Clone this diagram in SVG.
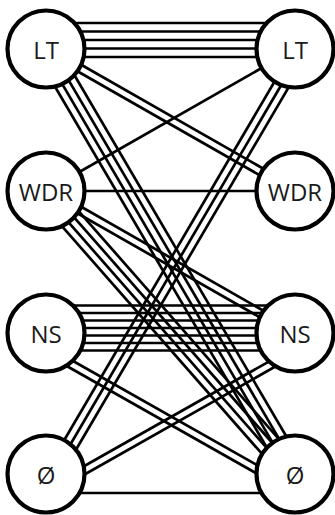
<svg xmlns="http://www.w3.org/2000/svg" width="335" height="515" viewBox="0 0 335 515">
<style>
.e line{stroke:#000;stroke-width:2.7;fill:none}
.n circle{fill:#fff;stroke:#000;stroke-width:4.2}
.n text{font-family:"Open Sans","DejaVu Sans",sans-serif;font-size:24px;fill:#1a1a1a;text-anchor:middle;dominant-baseline:central}
</style>
<rect width="335" height="515" fill="#fff"/>
<g id="connectors" class="e">
  <g transform="translate(46,40)">
    <line x1="0" y1="-17" x2="249" y2="-17"/><line x1="0" y1="-8.5" x2="249" y2="-8.5"/><line x1="0" y1="0" x2="249" y2="0"/><line x1="0" y1="8.5" x2="249" y2="8.5"/><line x1="0" y1="17" x2="249" y2="17"/>
  </g>
  <g transform="translate(46,49) rotate(29.7)">
    <line x1="0" y1="-3.75" x2="287" y2="-3.75"/><line x1="0" y1="3.75" x2="287" y2="3.75"/>
  </g>
  <g transform="translate(46,49) rotate(59.6)">
    <line x1="0" y1="-11.25" x2="493" y2="-11.25"/><line x1="0" y1="-3.75" x2="493" y2="-3.75"/><line x1="0" y1="3.75" x2="493" y2="3.75"/><line x1="0" y1="11.25" x2="493" y2="11.25"/>
  </g>
  <g transform="translate(46,191) rotate(-29.7)"><line x1="0" y1="0" x2="287" y2="0"/></g>
  <line x1="46" y1="191" x2="295" y2="191"/>
  <g transform="translate(46,191) rotate(29.7)">
    <line x1="0" y1="-3.75" x2="287" y2="-3.75"/><line x1="0" y1="3.75" x2="287" y2="3.75"/>
  </g>
  <g transform="translate(46,191) rotate(48.7)">
    <line x1="0" y1="-11.25" x2="378" y2="-11.25"/><line x1="0" y1="-3.75" x2="378" y2="-3.75"/><line x1="0" y1="3.75" x2="378" y2="3.75"/><line x1="0" y1="11.25" x2="378" y2="11.25"/>
  </g>
  <g transform="translate(46,328)">
    <line x1="0" y1="-22.5" x2="249" y2="-22.5"/><line x1="0" y1="-15" x2="249" y2="-15"/><line x1="0" y1="-7.5" x2="249" y2="-7.5"/><line x1="0" y1="0" x2="249" y2="0"/><line x1="0" y1="7.5" x2="249" y2="7.5"/><line x1="0" y1="15" x2="249" y2="15"/><line x1="0" y1="22.5" x2="249" y2="22.5"/>
  </g>
  <g transform="translate(46,350) rotate(29.5)">
    <line x1="0" y1="-3.75" x2="287" y2="-3.75"/><line x1="0" y1="3.75" x2="287" y2="3.75"/>
  </g>
  <g transform="translate(46,486) rotate(-59.6)">
    <line x1="0" y1="-7.5" x2="493" y2="-7.5"/><line x1="0" y1="0" x2="493" y2="0"/><line x1="0" y1="7.5" x2="493" y2="7.5"/>
  </g>
  <g transform="translate(46,492) rotate(-29.5)">
    <line x1="0" y1="-3.75" x2="287" y2="-3.75"/><line x1="0" y1="3.75" x2="287" y2="3.75"/>
  </g>
  <line x1="46" y1="493" x2="295" y2="493"/>
</g>
<g id="lt-left" class="n"><circle cx="46" cy="49" r="38.5"/><text x="46" y="49">LT</text></g>
<g id="wdr-left" class="n"><circle cx="46" cy="191" r="38.5"/><text x="46" y="191">WDR</text></g>
<g id="ns-left" class="n"><circle cx="46" cy="333" r="38.5"/><text x="46" y="333">NS</text></g>
<g id="null-left" class="n"><circle cx="46" cy="474" r="38.5"/><text x="46" y="474">Ø</text></g>
<g id="lt-right" class="n"><circle cx="295" cy="49" r="38.5"/><text x="295" y="49">LT</text></g>
<g id="wdr-right" class="n"><circle cx="295" cy="191" r="38.5"/><text x="295" y="191">WDR</text></g>
<g id="ns-right" class="n"><circle cx="295" cy="333" r="38.5"/><text x="295" y="333">NS</text></g>
<g id="null-right" class="n"><circle cx="295" cy="474" r="38.5"/><text x="295" y="474">Ø</text></g>
</svg>
